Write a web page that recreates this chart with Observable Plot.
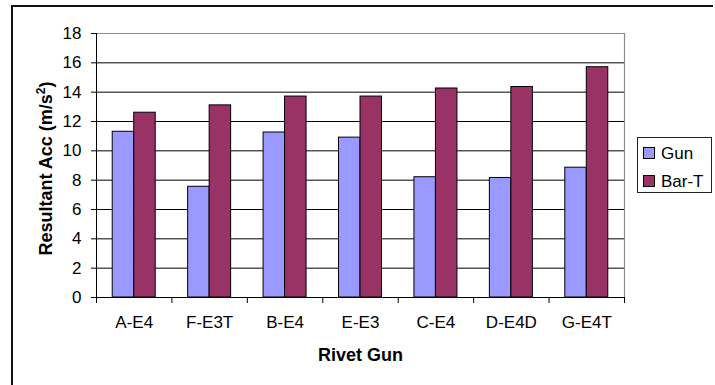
<!DOCTYPE html>
<html>
<head>
<meta charset="utf-8">
<script src="https://cdn.jsdelivr.net/npm/d3@7"></script>
<script src="https://cdn.jsdelivr.net/npm/@observablehq/plot@0.6"></script>
<style>
  body { margin: 0; background: #fff; }
  #wrap { position: relative; width: 715px; height: 385px; overflow: hidden; font-family: "Liberation Sans", Arial, sans-serif; background: #fff; }
  #border { position: absolute; left: 11px; top: 5px; width: 702px; height: 420px; border-top: 2px solid #111; border-left: 2px solid #111; box-sizing: border-box; }
  #chart { position: absolute; left: 0; top: 0; }
  .legend { position: absolute; left: 637px; top: 137px; width: 75px; height: 56px; border: 1px solid #222; box-sizing: border-box; background: #fff; }
  .legend .sw { position: absolute; left: 5px; width: 12px; height: 12px; border: 1px solid #000; box-sizing: border-box; }
  .legend .lb { position: absolute; left: 23px; font-size: 17px; line-height: 17px; color: #000; white-space: nowrap; }
</style>
</head>
<body>
<div id="wrap">
  <div id="border"></div>
  <div id="chart"></div>
  <div class="legend" id="legend"></div>
</div>
<script>
// ---- Data ----
const categories = ["A-E4", "F-E3T", "B-E4", "E-E3", "C-E4", "D-E4D", "G-E4T"];
const seriesNames = ["Gun", "Bar-T"];
const gunValues = [11.3, 7.55, 11.25, 10.9, 8.2, 8.15, 8.85];
const barTValues = [12.6, 13.1, 13.7, 13.7, 14.25, 14.35, 15.7];
const seriesColors = ["#9999FF", "#993366"];
const yTicks = [0, 2, 4, 6, 8, 10, 12, 14, 16, 18];
const xTitle = "Rivet Gun";
const yTitle = "Resultant Acc (m/s2)";

// ---- Build rows ----
const half = 0.285; // half group width in category units
const rows = [];
categories.forEach((c, i) => {
  rows.push({cat: c, series: seriesNames[0], value: gunValues[i], x1: i + 0.5 - half, x2: i + 0.5});
  rows.push({cat: c, series: seriesNames[1], value: barTValues[i], x1: i + 0.5, x2: i + 0.5 + half});
});
const catIdx = categories.map((c, i) => ({c, i}));
const boundaries = d3.range(categories.length + 1);

const chart = Plot.plot({
  width: 715,
  height: 385,
  marginLeft: 96,
  marginRight: 91,
  marginTop: 33,
  marginBottom: 88,
  style: {fontFamily: '"Liberation Sans", Arial, sans-serif', fontSize: "17px", background: "transparent", color: "#000"},
  x: {domain: [0, categories.length], axis: null},
  y: {domain: [0, 18], axis: null},
  color: {domain: seriesNames, range: seriesColors},
  marks: [
    Plot.ruleY(yTicks.filter(d => d > 0 && d < 18), {stroke: "#000", strokeWidth: 1}),
    Plot.ruleY([18], {stroke: "#8c8c8c", strokeWidth: 1.2}),
    Plot.ruleX([categories.length], {stroke: "#8c8c8c", strokeWidth: 1.2}),
    Plot.rectY(rows, {x1: "x1", x2: "x2", y1: 0, y2: "value", fill: "series", stroke: "#000", strokeWidth: 1}),
    Plot.axisY({ticks: yTicks, tickSize: 5, tickPadding: 10, fontSize: 17, label: null, stroke: "#000"}),
    Plot.axisX({ticks: boundaries, tickSize: 6, tickFormat: () => "", label: null, stroke: "#000"}),
    Plot.ruleX([0], {stroke: "#000"}),
    Plot.ruleY([0], {stroke: "#000"}),
    Plot.text(catIdx, {x: d => d.i + 0.5, text: d => d.c, frameAnchor: "bottom", dy: 30, fontSize: 17, fill: "#000"}),
    Plot.text([xTitle], {frameAnchor: "bottom", dy: 63, fontSize: 18, fontWeight: "bold", fill: "#000"}),
    Plot.text([yTitle], {frameAnchor: "left", textAnchor: "middle", rotate: -90, dx: -50, dy: 3, fontSize: 18, fontWeight: "bold", fill: "#000"})
  ]
});
document.getElementById("chart").appendChild(chart);

// superscript for the y title
d3.select(chart).selectAll("text").filter(function() { return this.textContent === yTitle; })
  .each(function() {
    const t = d3.select(this);
    t.text(null);
    t.append("tspan").text("Resultant Acc (m/s");
    t.append("tspan").attr("baseline-shift", "super").attr("font-size", "12px").text("2");
    t.append("tspan").text(")");
  });

// legend
const legend = document.getElementById("legend");
const swTops = [9, 37];
const lbTops = [7, 35];
seriesNames.forEach((s, i) => {
  const sw = document.createElement("div");
  sw.className = "sw";
  sw.style.top = swTops[i] + "px";
  sw.style.background = seriesColors[i];
  legend.appendChild(sw);
  const lb = document.createElement("div");
  lb.className = "lb";
  lb.style.top = lbTops[i] + "px";
  lb.textContent = s;
  legend.appendChild(lb);
});
</script>
</body>
</html>
